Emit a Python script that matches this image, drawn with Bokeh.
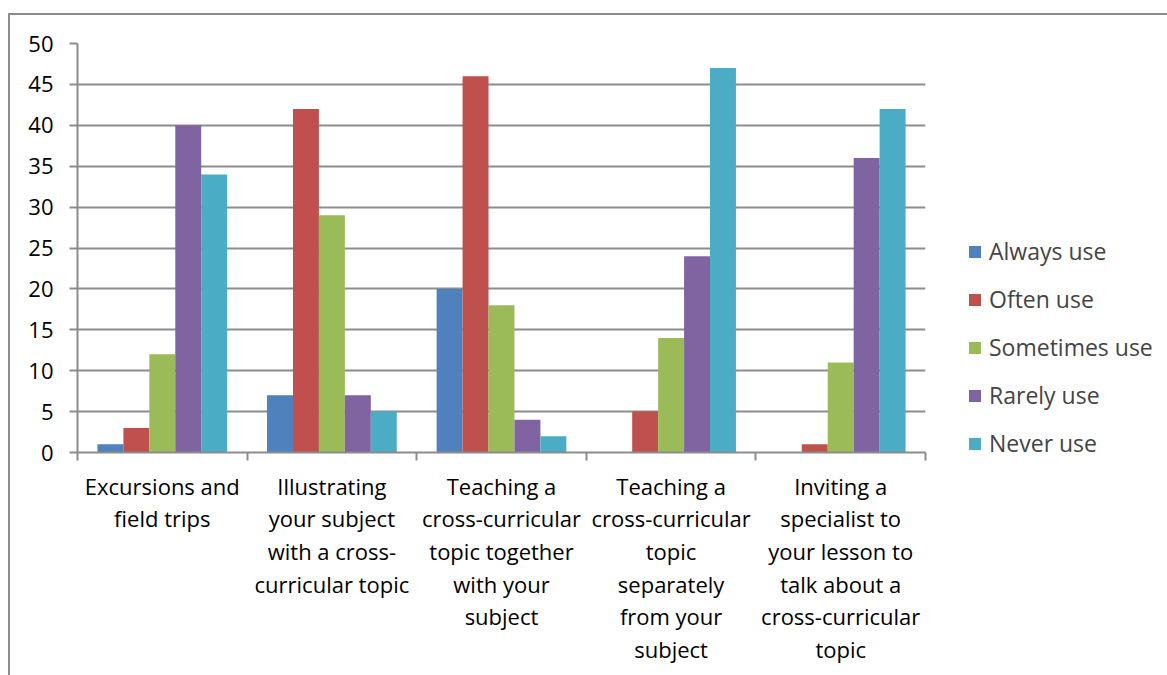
from bokeh.plotting import figure
from bokeh.models import FixedTicker, Legend, LegendItem, ColumnDataSource
from bokeh.embed import file_html
from bokeh.resources import INLINE

categories = [
    "Excursions and\nfield trips",
    "Illustrating\nyour subject\nwith a cross-\ncurricular topic",
    "Teaching a\ncross-curricular\ntopic together\nwith your\nsubject",
    "Teaching a\ncross-curricular\ntopic\nseparately\nfrom your\nsubject",
    "Inviting a\nspecialist to\nyour lesson to\ntalk about a\ncross-curricular\ntopic",
]
series_names = ["Always use", "Often use", "Sometimes use", "Rarely use", "Never use"]
always_use = [1, 7, 20, 0, 0]
often_use = [3, 42, 46, 5, 1]
sometimes_use = [12, 29, 18, 14, 11]
rarely_use = [40, 7, 4, 24, 36]
never_use = [34, 5, 2, 47, 42]
colors = ["#4F81BD", "#C0504D", "#9BBB59", "#8064A2", "#4BACC6"]
y_ticks = list(range(0, 51, 5))

series = [always_use, often_use, sometimes_use, rarely_use, never_use]

FONT = "Open Sans"
GRID = "#8c8c8c"
FS = "22px"

p = figure(frame_width=848, frame_height=409, x_range=(0, 5), y_range=(0, 50),
           output_backend="svg", toolbar_location=None,
           min_border_left=67, min_border_top=28, min_border_right=240,
           min_border_bottom=224)
p.margin = (13, 0, 0, 8)
p.styles = {"border-left": "2px solid #8c8c8c", "border-top": "2px solid #8c8c8c"}
p.outline_line_color = None
p.background_fill_color = "white"
p.border_fill_color = "white"

bar_w = 0.153
centers = [i + 0.5 for i in range(len(categories))]
items = []
for k, (vals, name, col) in enumerate(zip(series, series_names, colors)):
    xs = [c + (k - 2) * bar_w for c in centers]
    src = ColumnDataSource(dict(x=xs, top=vals))
    r = p.vbar(x="x", top="top", bottom=0, width=bar_w, source=src,
               fill_color=col, line_color=None)
    items.append(LegendItem(label=name, renderers=[r]))

# axes
p.xaxis.ticker = FixedTicker(ticks=centers, minor_ticks=list(range(0, 6)))
p.xaxis.major_label_overrides = {c: lab for c, lab in zip(centers, categories)}
p.xaxis.major_tick_line_color = None
p.xaxis.minor_tick_in = 0
p.xaxis.minor_tick_out = 8
p.xaxis.minor_tick_line_color = GRID
p.xaxis.minor_tick_line_width = 2
p.xaxis.axis_line_color = GRID
p.xaxis.axis_line_width = 2
p.xaxis.major_label_text_font = FONT
p.xaxis.major_label_text_font_size = FS
p.xaxis.major_label_text_color = "black"
p.xaxis.major_label_text_line_height = 1.09
p.xaxis.major_label_standoff = 10

p.yaxis.ticker = FixedTicker(ticks=y_ticks)
p.yaxis.minor_tick_line_color = None
p.yaxis.major_tick_in = 0
p.yaxis.major_tick_out = 8
p.yaxis.major_tick_line_color = GRID
p.yaxis.major_tick_line_width = 2
p.yaxis.axis_line_color = GRID
p.yaxis.axis_line_width = 2
p.yaxis.major_label_text_font = FONT
p.yaxis.major_label_text_font_size = FS
p.yaxis.major_label_text_color = "black"
p.yaxis.major_label_standoff = 16

p.xgrid.grid_line_color = None
p.ygrid.grid_line_color = GRID
p.ygrid.grid_line_width = 2

legend = Legend(items=items, location=(42, -7), orientation="vertical",
                label_text_font=FONT, label_text_font_size="23px",
                glyph_width=15, glyph_height=15, label_standoff=7,
                spacing=16, padding=0, margin=0,
                border_line_color=None, background_fill_alpha=0)
p.add_layout(legend, "right")

open("out.html", "w").write(file_html(p, INLINE))
